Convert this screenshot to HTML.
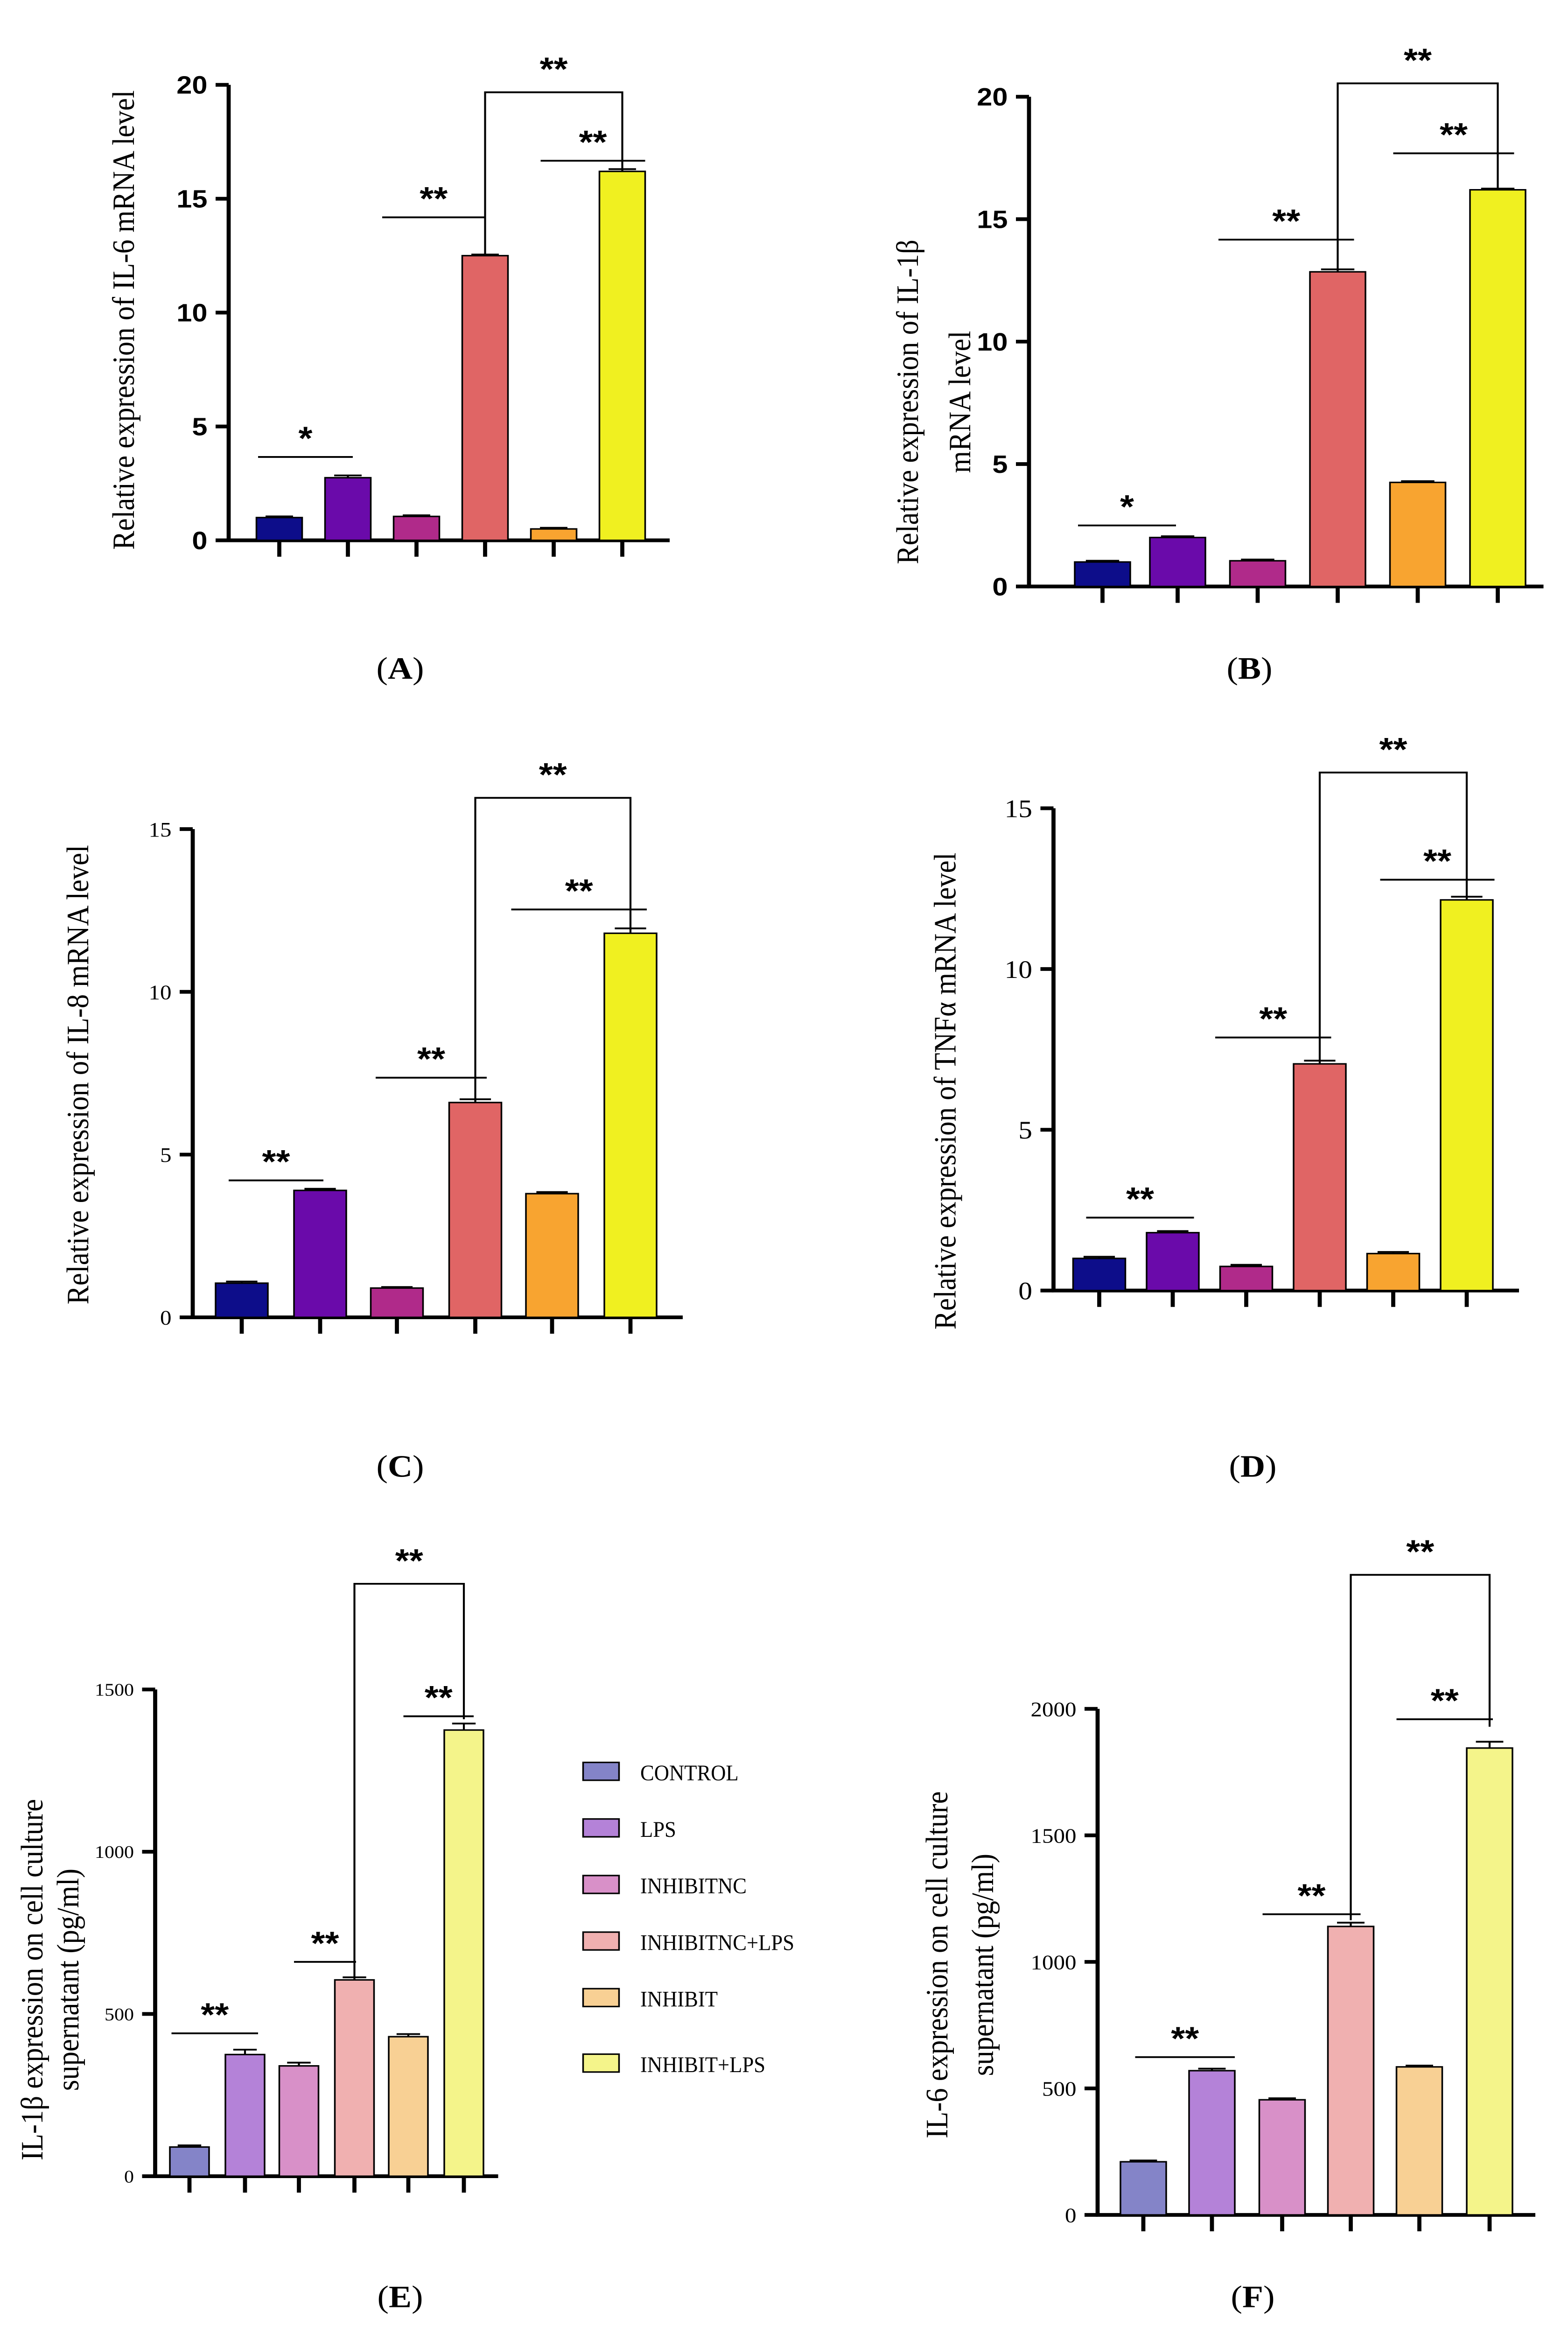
<!DOCTYPE html>
<html><head><meta charset="utf-8">
<style>html,body{margin:0;padding:0;background:#fff;width:100%;height:100%;overflow:hidden}svg{display:block;position:fixed;left:0;top:0;width:100vw;height:100vh}</style></head>
<body>
<svg id="fig" width="3360" height="5393" viewBox="0 0 960 1568" preserveAspectRatio="none" xmlns="http://www.w3.org/2000/svg" font-family="Liberation Serif, serif" style="width:100vw !important;height:100vh !important"></svg>
<script>
const categories=["CONTROL","LPS","INHIBITNC","INHIBITNC+LPS","INHIBIT","INHIBIT+LPS"];
const valsA=[1.0,2.75,1.05,12.5,0.5,16.2];
const errA=[0.05,0.1,0.05,0.05,0.05,0.1];
const valsB=[1.0,2.0,1.05,12.85,4.25,16.2];
const errB=[0.05,0.05,0.05,0.1,0.05,0.05];
const valsC=[1.05,3.9,0.9,6.6,3.8,11.8];
const errC=[0.05,0.05,0.03,0.1,0.05,0.15];
const valsD=[1.0,1.8,0.75,7.05,1.15,12.15];
const errD=[0.05,0.05,0.05,0.1,0.05,0.1];
const valsE=[90,375,340,605,430,1375];
const errE=[5,15,10,8,8,20];
const valsF=[210,570,455,1140,585,1845];
const errF=[5,8,6,15,5,25];
const ticksA=[0,5,10,15,20],ticksB=[0,5,10,15,20],ticksC=[0,5,10,15],ticksD=[0,5,10,15],ticksE=[0,500,1000,1500],ticksF=[0,500,1000,1500,2000];
const dark=["#0d0d8a","#6a0aaa","#b02a8a","#e06565","#f8a430","#f0f020"];
const light=["#8484c8","#b482d8","#d890c8","#f0b0b0","#f8d094","#f4f48a"];
const NS="http://www.w3.org/2000/svg";
const svg=document.getElementById("fig");
function el(t,a,p){const e=document.createElementNS(NS,t);for(const k in a)e.setAttribute(k,a[k]);(p||svg).appendChild(e);return e;}
const panels=[
 {id:"a",vals:valsA,err:errA,ticks:ticksA,max:20,ax:140,top:57,bot:363,xr:410,cx:[171,213,255,297,339,381],bw:28,col:dark,bold:true,fs:17,lab:["Relative expression of IL-6 mRNA level"],lx:[82],ly:215,
  sig:[["*",0,1,307,158,216],["**",2,3,146,234,297],["**",4,5,108,331,395]],br:[3,5,62,172,115],letter:"A",letx:245,lety:456},
 {id:"b",vals:valsB,err:errB,ticks:ticksB,max:20,ax:630,top:65,bot:394,xr:945,cx:[675,721,770,819,868,917],bw:34,col:dark,bold:true,fs:17,lab:["Relative expression of IL-1β","mRNA level"],lx:[562,594],ly:270,
  sig:[["*",0,1,353,660,720],["**",2,3,161,746,829],["**",4,5,103,853,927]],br:[3,5,56,181,127],letter:"B",letx:765,lety:456},
 {id:"c",vals:valsC,err:errC,ticks:ticksC,max:15,ax:118,top:557,bot:885,xr:418,cx:[148,196,243,291,338,386],bw:32,col:dark,bold:false,fs:14,lab:["Relative expression of IL-8 mRNA level"],lx:[54],ly:722,
  sig:[["**",0,1,793,140,198],["**",2,3,724,230,298],["**",4,5,611,313,396]],br:[3,5,536,740,625],letter:"C",letx:245,lety:992},
 {id:"d",vals:valsD,err:errD,ticks:ticksD,max:15,ax:645,top:543,bot:867,xr:930,cx:[673,718,763,808,853,898],bw:32,col:dark,bold:false,fs:17,lab:["Relative expression of TNFα mRNA level"],lx:[585],ly:733,
  sig:[["**",0,1,818,665,731],["**",2,3,697,744,815],["**",4,5,591,845,915]],br:[3,5,519,713,603],letter:"D",letx:767,lety:992},
 {id:"e",vals:valsE,err:errE,ticks:ticksE,max:1500,ax:95,top:1135,bot:1462,xr:305,cx:[116,150,183,217,250,284],bw:24,col:light,bold:false,fs:12,lab:["IL-1β expression on cell culture","supernatant (pg/ml)"],lx:[26,48],ly:1330,
  sig:[["**",0,1,1366,105,158],["**",2,3,1318,180,218],["**",4,5,1153,247,290]],br:[3,5,1064,1328,1155],letter:"E",letx:245,lety:1550},
 {id:"f",vals:valsF,err:errF,ticks:ticksF,max:2000,ax:672,top:1148,bot:1488,xr:940,cx:[700,742,785,827,869,912],bw:28,col:light,bold:false,fs:14,lab:["IL-6 expression on cell culture","supernatant (pg/ml)"],lx:[580,608],ly:1320,
  sig:[["**",0,1,1382,695,756],["**",2,3,1286,773,833],["**",4,5,1155,855,914]],br:[3,5,1058,1290,1160],letter:"F",letx:767,lety:1550}
];
panels.forEach(p=>{
 const g=el("g",{});
 
 
 const y=v=>p.bot-(v/p.max)*(p.bot-p.top);
 el("line",{x1:p.ax,y1:p.top,x2:p.ax,y2:p.bot+1,stroke:"#000","stroke-width":2.5},g);
 el("line",{x1:p.ax-1,y1:p.bot,x2:p.xr,y2:p.bot,stroke:"#000","stroke-width":2.5},g);
 p.ticks.forEach(t=>{
  el("line",{x1:p.ax-8,y1:y(t),x2:p.ax,y2:y(t),stroke:"#000","stroke-width":2.5},g);
  const tx=el("text",{x:p.ax-13,y:y(t)+p.fs*0.35,"text-anchor":"end","font-size":p.fs,"font-weight":p.bold?"bold":"normal","font-family":p.bold?"Liberation Sans, sans-serif":"Liberation Serif, serif"},g);
  tx.textContent=t;
  
  
 });
 p.vals.forEach((v,i)=>{
  const cx=p.cx[i];
  const r=el("rect",{x:cx-p.bw/2,y:y(v),width:p.bw,height:p.bot-y(v),fill:p.col[i],stroke:"#000","stroke-width":1},g);
  
  
  const ey=y(v+p.err[i]);
  el("line",{x1:cx,y1:y(v),x2:cx,y2:ey,stroke:"#000","stroke-width":1.2},g);
  el("line",{x1:cx-p.bw*0.3,y1:ey,x2:cx+p.bw*0.3,y2:ey,stroke:"#000","stroke-width":1.2},g);
  el("line",{x1:cx,y1:p.bot,x2:cx,y2:p.bot+11,stroke:"#000","stroke-width":2.5},g);
 });
 p.lab.forEach((s,k)=>{
  const t=el("text",{x:p.lx[k],y:p.ly,transform:`rotate(-90 ${p.lx[k]} ${p.ly})`,"text-anchor":"middle","font-size":19},g);
  t.textContent=s;
  
  
 });
 p.sig.forEach(s=>{
  el("line",{x1:s[4],y1:s[3],x2:s[5],y2:s[3],stroke:"#000","stroke-width":1.2},g);
  const t=el("text",{x:(s[4]+s[5])/2,y:s[3]-5,"text-anchor":"middle","font-size":22,"font-weight":"bold","font-family":"Liberation Sans, sans-serif"},g);
  t.textContent=s[0];
  
  
 });
 const b=p.br,x1=p.cx[b[0]],x2=p.cx[b[1]];
 el("polyline",{points:`${x1},${b[3]} ${x1},${b[2]} ${x2},${b[2]} ${x2},${b[4]}`,fill:"none",stroke:"#000","stroke-width":1.2},g);
 const bt=el("text",{x:(x1+x2)/2,y:b[2]-8,"text-anchor":"middle","font-size":22,"font-weight":"bold","font-family":"Liberation Sans, sans-serif"},g);
 bt.textContent="**";
 
 
 const L=el("text",{x:p.letx,y:p.lety,"text-anchor":"middle","font-size":21},g);
 L.innerHTML='(<tspan font-weight="bold">'+p.letter+'</tspan>)';
 
 
});
const legY=[1190,1228,1266,1304,1342,1386];
const lg=el("g",{});


categories.forEach((c,i)=>{
 const r=el("rect",{x:357,y:legY[i]-6,width:22,height:12,fill:light[i],stroke:"#000","stroke-width":1},lg);
 
 
 const t=el("text",{x:392,y:legY[i]+6,"font-size":15,transform:`scale(0.85 1) translate(${392/0.85-392} 0)`},lg);
 t.textContent=c;
 
 
});
</script>
</body></html>
